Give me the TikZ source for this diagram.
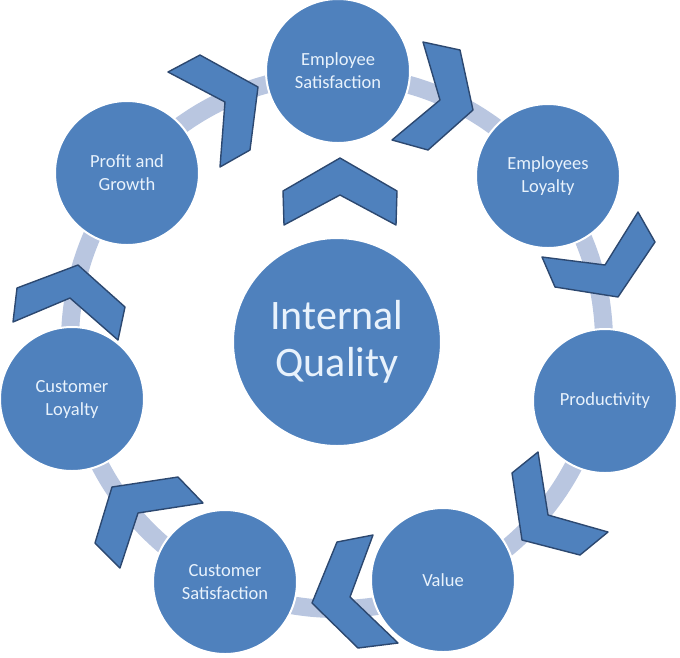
\documentclass[tikz,border=0pt]{standalone}
\usepackage{fontspec}
\setmainfont{Carlito}
\definecolor{cblue}{RGB}{79,129,189}
\definecolor{cedge}{RGB}{44,72,112}
\definecolor{cring}{RGB}{185,198,224}
\definecolor{ctext}{RGB}{232,242,252}
\begin{document}
\begin{tikzpicture}[x=1pt,y=-1pt,
  stage/.style={circle, fill=cblue, draw=white, line width=2pt, inner sep=0pt,
    minimum size=144pt, text=ctext, align=center,
    font=\fontsize{18.5}{23}\selectfont},
  hub/.style={stage, minimum size=208pt, font=\fontsize{42}{47}\selectfont},
  chev/.style={fill=cblue, draw=cedge, line width=1.4pt, line join=round},
  ring/.style={draw=cring, line width=18pt}]
\useasboundingbox (0,0) rectangle (680,657);
\coordinate (rc) at (337,342);
\draw[ring] (rc) circle[radius=267pt];
\node[hub] (iq) at (rc) {Internal\\Quality};
\node[stage] (es) at (338,71) {Employee\\Satisfaction};
\node[stage] (el) at (548,176) {Employees\\Loyalty};
\node[stage] (pr) at (605,401) {Productivity};
\node[stage] (va) at (443,580) {Value};
\node[stage] (cs) at (225,582) {Customer\\Satisfaction};
\node[stage] (cl) at (72,399) {Customer\\Loyalty};
\node[stage] (pg) at (127,173) {Profit and\\Growth};
% chevrons
\draw[chev] (168,72) -- (200,55) -- (258,87) -- (250,150) -- (220,167) -- (225,102) -- cycle;
\draw[chev] (423,42) -- (460,50) -- (473,110) -- (428,150) -- (392,140) -- (440,100) -- cycle;
\draw[chev] (542,257) -- (605,265) -- (638,212) -- (655,242) -- (618,297) -- (555,287) -- cycle;
\draw[chev] (538,452) -- (512,473) -- (522,540) -- (580,555) -- (608,532) -- (548,515) -- cycle;
\draw[chev] (337,542) -- (373,535) -- (350,597) -- (398,643) -- (358,648) -- (312,603) -- cycle;
\draw[chev] (112,487) -- (178,477) -- (203,503) -- (138,513) -- (120,568) -- (95,543) -- cycle;
\draw[chev] (17,288) -- (78,265) -- (125,307) -- (118,340) -- (70,298) -- (13,322) -- cycle;
\draw[chev] (283,191) -- (340,158) -- (397,191) -- (396,225) -- (340,195) -- (284,225) -- cycle;
\end{tikzpicture}
\end{document}
